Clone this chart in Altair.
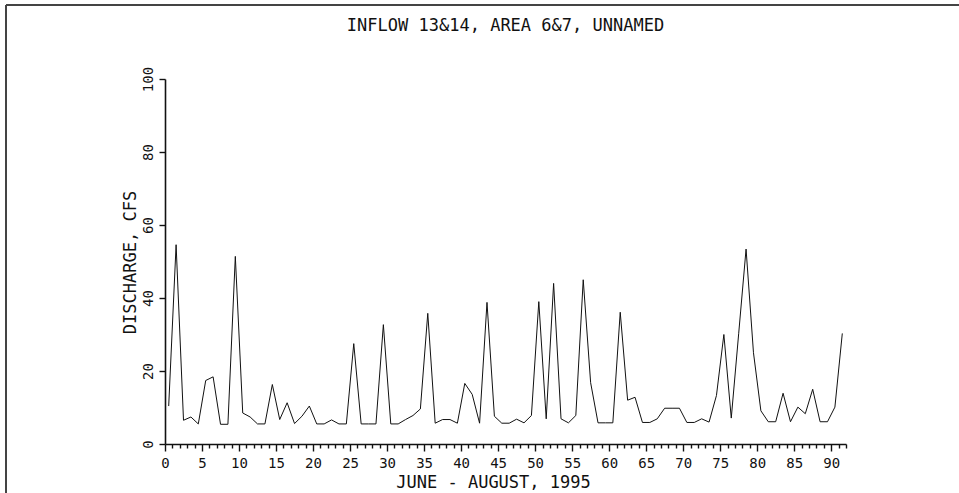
import altair as alt
import pandas as pd

days = list(range(1, 93))
discharge = [
    10.4, 54.6, 6.5, 7.4, 5.5, 17.4, 18.4, 5.4, 5.4, 51.4,
    8.5, 7.4, 5.5, 5.5, 16.3, 6.7, 11.3, 5.6, 7.6, 10.4,
    5.5, 5.5, 6.6, 5.5, 5.5, 27.5, 5.5, 5.5, 5.5, 32.7,
    5.5, 5.5, 6.7, 7.8, 9.6, 35.8, 5.7, 6.7, 6.7, 5.7,
    16.6, 13.6, 5.7, 38.8, 7.6, 5.7, 5.7, 6.8, 5.8, 7.8,
    39.0, 6.9, 44.0, 6.9, 5.8, 7.8, 45.0, 16.8, 5.8, 5.8,
    5.8, 36.1, 12.0, 12.8, 5.9, 5.9, 6.9, 9.8, 9.8, 9.8,
    5.9, 5.9, 6.9, 6.0, 13.3, 30.0, 7.1, 30.2, 53.4, 25.0,
    9.1, 6.1, 6.1, 13.9, 6.1, 10.1, 8.3, 15.0, 6.1, 6.1,
    10.1, 30.3,
]
x_tick_values = list(range(0, 93))
y_tick_values = [0, 20, 40, 60, 80, 100]

title_text = "INFLOW 13&14, AREA 6&7, UNNAMED"
x_title = "JUNE  -  AUGUST, 1995"
y_title = "DISCHARGE, CFS"

FONT = "DejaVu Sans Mono"
INK = "#111111"

df = pd.DataFrame({"day": days, "q": discharge})

x_axis = alt.Axis(
    values=x_tick_values,
    labelExpr="datum.value % 5 === 0 ? datum.label : ''",
    tickSize={"condition": {"test": "datum.value % 5 === 0", "value": 7}, "value": 4},
    labelPadding=5,
    labelFont=FONT, labelFontSize=14, labelColor=INK,
    labelOverlap=False, labelFlush=False, labelAngle=0,
    domainColor=INK, domainWidth=1.6, tickColor=INK, tickWidth=1.4,
    grid=False,
    title=x_title, titleFont=FONT, titleFontSize=17, titleFontWeight="normal",
    titleColor=INK, titleX=328, titleY=43, titleBaseline="alphabetic", titleAlign="center",
)

y_axis = alt.Axis(
    values=y_tick_values,
    tickSize=6, labelAngle=270, labelAlign="center", labelBaseline="bottom",
    labelPadding=4, labelFont=FONT, labelFontSize=14, labelColor=INK,
    domainColor=INK, domainWidth=1.6, tickColor=INK, tickWidth=1.4,
    grid=False,
    title=y_title, titleFont=FONT, titleFontSize=17, titleFontWeight="normal",
    titleColor=INK, titleAngle=270, titleX=-35, titleY=183,
    titleAlign="center", titleBaseline="middle",
)

line = alt.Chart(df).transform_calculate(
    pos="datum.day - 0.5"
).mark_line(color=INK, strokeWidth=1).encode(
    x=alt.X("pos:Q", scale=alt.Scale(domain=[0, 92], nice=False, zero=False), axis=x_axis),
    y=alt.Y("q:Q", scale=alt.Scale(domain=[0, 100], nice=False), axis=y_axis),
)

border_top = alt.Chart(df).mark_rule(color="#444444", strokeWidth=2).encode(
    x=alt.value(-159), x2=alt.value(805), y=alt.value(-74)
)
border_left = alt.Chart(df).mark_rule(color="#444444", strokeWidth=2).encode(
    x=alt.value(-159), y=alt.value(-74), y2=alt.value(420)
)

chart = alt.layer(line, border_top, border_left).properties(
    width=681,
    height=365,
    autosize=alt.AutoSizeParams(type="none"),
    padding={"left": 165, "top": 79, "right": 113, "bottom": 49},
    title=alt.TitleParams(
        text=title_text, font=FONT, fontSize=17, fontWeight="normal",
        color=INK, anchor="middle", baseline="alphabetic", offset=-44,
    ),
).configure(background="white").configure_view(stroke=None)

chart.save("out.html", embed_options={"renderer": "svg", "actions": False})
